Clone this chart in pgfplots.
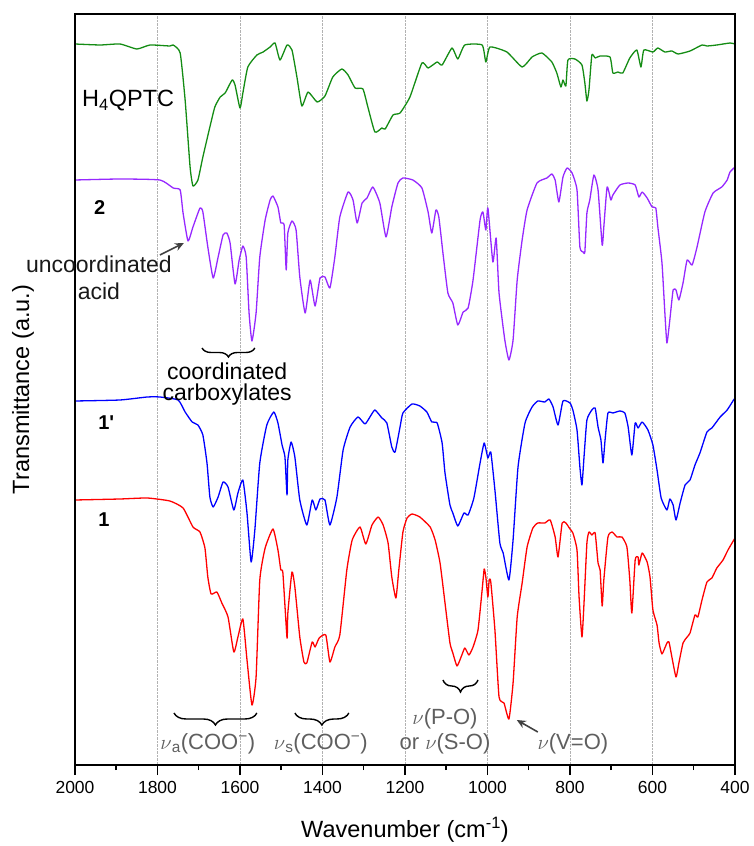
\documentclass[border=0pt]{standalone}
\usepackage{pgfplots}
\pgfplotsset{compat=1.18}
\usepackage{fontspec}
\setmainfont{Liberation Sans}
\usetikzlibrary{decorations.pathreplacing,arrows.meta}
\definecolor{cgreen}{RGB}{20,140,20}
\definecolor{cpurple}{RGB}{150,40,255}
\definecolor{cblue}{RGB}{0,0,255}
\definecolor{cred}{RGB}{255,0,0}
\definecolor{anngray}{RGB}{95,95,95}
\definecolor{arrgray}{RGB}{64,64,64}
\newcommand{\ann}{\fontsize{23}{27}\selectfont}
\newcommand{\annb}{\fontsize{22}{26}\selectfont}
\begin{document}
\begin{tikzpicture}
\begin{axis}[
  scale only axis, width=660pt, height=751pt,
  xmin=400, xmax=2000, x dir=reverse, ymin=0, ymax=751,
  xtick={400,600,...,2000}, minor xtick={500,700,...,1900},
  ytick=\empty, xtick pos=left, tick align=outside,
  major tick length=10pt, minor tick length=5pt,
  every tick/.style={black, line width=1.5pt},
  axis line style={line width=1.8pt},
  xmajorgrids, grid style={densely dotted, gray!60, line width=0.8pt},
  scaled x ticks=false,
  x tick label style={font=\fontsize{17.5}{20}\selectfont, yshift=-3pt, /pgf/number format/assume math mode=true, /pgf/number format/set thousands separator={}},
  xlabel={Wavenumber (cm\textsuperscript{-1})},
  xlabel style={font=\fontsize{23.5}{28}\selectfont, at={(axis description cs:0.5,-0.0866)}, anchor=center},
  ylabel={Transmittance (a.u.)},
  ylabel style={font=\fontsize{23.5}{28}\selectfont, at={(axis description cs:-0.0788,0.5)}, anchor=center},
  clip mode=individual,
  every axis plot/.append style={line width=1.3pt, line join=round, smooth, tension=0.3},
]
% H4QPTC
\addplot[cgreen] coordinates {
(2000,721)(1939,720)(1891,721)(1850,716)(1818,720)(1770,719)(1762,720)(1745,712)(1733,665)(1721,598)(1714,579)(1702,585)(1690,608)(1673,638)(1661,658)(1648,668)(1636,672)(1619,685)(1612,680)(1600,657)(1593,672)(1581,698)(1559,710)(1544,713)(1527,718)(1515,722)(1503,705)(1486,720)(1474,715)(1462,688)(1450,659)(1435,673)(1413,663)(1394,669)(1375,688)(1353,696)(1338,690)(1321,677)(1302,676)(1290,658)(1273,633)(1256,637)(1248,636)(1229,650)(1212,652)(1188,668)(1159,702)(1144,697)(1122,703)(1110,700)(1086,717)(1072,706)(1055,720)(1013,720)(1004,703)(994,718)(953,713)(916,698)(892,708)(868,712)(844,703)(832,692)(822,678)(817,685)(810,679)(805,705)(788,706)(771,700)(764,682)(759,664)(754,675)(747,710)(739,707)(727,709)(703,708)(696,692)(684,693)(672,692)(655,707)(638,715)(628,698)(621,715)(599,713)(587,717)(570,713)(553,714)(538,711)(509,714)(480,720)(468,719)(444,720)(412,722)(400,721)
};
% 2
\addplot[cpurple] coordinates {
(2000,585)(1891,586)(1794,585)(1762,577)(1745,575)(1738,552)(1726,524)(1714,538)(1697,557)(1690,553)(1678,518)(1665,487)(1653,508)(1641,530)(1632,532)(1624,522)(1612,481)(1602,505)(1593,519)(1585,508)(1578,452)(1571,424)(1561,452)(1552,508)(1539,545)(1527,565)(1520,569)(1508,558)(1501,542)(1493,540)(1488,495)(1484,532)(1474,544)(1464,535)(1455,488)(1442,452)(1430,485)(1418,459)(1406,487)(1394,488)(1382,477)(1370,508)(1358,548)(1338,573)(1326,565)(1316,542)(1304,562)(1292,567)(1278,578)(1261,562)(1246,528)(1232,558)(1217,582)(1205,587)(1181,585)(1159,577)(1144,553)(1135,532)(1125,555)(1118,548)(1108,512)(1096,472)(1084,462)(1072,440)(1059,453)(1047,457)(1035,485)(1018,545)(1011,553)(1004,535)(999,557)(987,503)(979,527)(972,472)(958,425)(948,405)(938,425)(928,485)(916,525)(904,555)(880,582)(856,587)(844,591)(836,585)(827,563)(817,588)(807,597)(795,592)(783,575)(776,518)(768,513)(764,513)(759,552)(752,565)(742,590)(732,575)(722,520)(718,538)(710,578)(701,565)(696,570)(679,580)(659,582)(642,580)(633,568)(625,573)(613,567)(601,558)(592,557)(587,538)(577,502)(570,452)(565,422)(558,445)(550,475)(543,475)(536,465)(526,482)(516,505)(504,500)(492,518)(473,553)(453,572)(432,578)(419,585)(412,593)(400,598)
};
% 1'
\addplot[cblue] coordinates {
(2000,364)(1891,365)(1825,368)(1794,368)(1750,365)(1733,353)(1716,343)(1702,340)(1690,330)(1680,302)(1673,268)(1665,258)(1653,268)(1641,283)(1629,278)(1615,255)(1605,272)(1593,285)(1583,252)(1573,203)(1564,235)(1552,302)(1535,340)(1518,353)(1508,342)(1498,320)(1491,308)(1486,270)(1484,305)(1476,323)(1467,308)(1455,265)(1438,240)(1425,265)(1416,255)(1406,266)(1394,265)(1382,240)(1365,268)(1350,315)(1333,338)(1314,348)(1297,341)(1285,348)(1273,355)(1256,347)(1244,342)(1232,318)(1224,313)(1212,338)(1205,352)(1183,361)(1164,359)(1147,353)(1135,343)(1122,342)(1110,322)(1103,292)(1091,260)(1084,252)(1072,239)(1057,252)(1047,250)(1033,267)(1018,302)(1008,322)(999,307)(992,313)(982,275)(970,222)(962,212)(948,185)(938,225)(926,298)(909,342)(892,358)(878,364)(861,363)(851,366)(841,358)(829,340)(817,364)(800,362)(793,355)(783,335)(776,298)(771,280)(766,308)(759,345)(747,355)(739,357)(732,338)(725,325)(720,302)(715,325)(708,352)(696,352)(679,354)(667,352)(659,338)(650,310)(642,342)(635,337)(625,343)(611,335)(599,320)(589,295)(579,267)(565,255)(558,266)(550,260)(543,245)(533,262)(521,280)(509,285)(497,300)(485,312)(468,333)(456,337)(436,348)(419,355)(405,364)(400,367)
};
% 1
\addplot[cred] coordinates {
(2000,265)(1891,266)(1825,267)(1770,264)(1738,257)(1714,238)(1697,233)(1685,217)(1678,188)(1670,171)(1656,173)(1644,162)(1629,148)(1615,113)(1605,128)(1593,146)(1583,105)(1571,60)(1561,88)(1552,185)(1539,217)(1520,236)(1508,215)(1501,195)(1496,192)(1486,127)(1484,152)(1474,193)(1467,178)(1455,128)(1445,103)(1438,102)(1425,123)(1418,118)(1408,127)(1392,130)(1382,103)(1370,118)(1358,130)(1341,195)(1328,225)(1309,238)(1295,221)(1280,240)(1265,248)(1253,240)(1241,222)(1232,188)(1222,167)(1215,195)(1205,233)(1195,247)(1183,251)(1164,248)(1139,238)(1127,225)(1115,202)(1103,162)(1091,122)(1084,112)(1074,99)(1064,108)(1055,117)(1045,110)(1035,118)(1023,135)(1013,175)(1008,196)(1004,188)(999,168)(996,185)(992,183)(982,135)(972,68)(960,62)(948,46)(938,82)(928,148)(916,182)(904,218)(890,237)(878,242)(861,242)(848,245)(836,228)(829,208)(819,242)(810,242)(800,236)(793,232)(783,215)(778,168)(771,128)(766,162)(759,222)(754,233)(747,230)(739,232)(732,202)(727,195)(722,159)(718,185)(708,228)(698,233)(686,228)(674,228)(662,218)(655,185)(650,152)(642,205)(635,208)(633,200)(625,212)(613,203)(606,188)(599,155)(589,140)(584,122)(577,111)(565,122)(560,123)(553,108)(543,88)(536,102)(526,122)(516,128)(509,132)(497,150)(490,148)(480,165)(468,183)(456,187)(444,197)(429,205)(417,215)(400,227)
};
% frame
\draw[black, line width=1.8pt] (rel axis cs:0,0) rectangle (rel axis cs:1,1);
% labels of the spectra
\node[anchor=base west, inner sep=0pt, font=\fontsize{23.5}{28}\selectfont] at (axis cs:1983,658) {H\textsubscript{4}QPTC};
\node[anchor=base west, inner sep=0pt, font=\bfseries\fontsize{20}{24}\selectfont] at (axis cs:1954,550) {2};
\node[anchor=base west, inner sep=0pt, font=\bfseries\fontsize{20}{24}\selectfont] at (axis cs:1944,335) {1\textquotesingle};
\node[anchor=base west, inner sep=0pt, font=\bfseries\fontsize{20}{24}\selectfont] at (axis cs:1944,238) {1};
% uncoordinated acid
\node[anchor=base, inner sep=0pt, font=\ann, text=black!90] at (axis cs:1942,492) {uncoordinated};
\node[anchor=base, inner sep=0pt, font=\ann, text=black!90] at (axis cs:1942,465) {acid};
\draw[arrgray, line width=1.6pt, -{Stealth[length=9pt,width=8pt]}] (axis cs:1794,510) -- (axis cs:1736,522);
% coordinated carboxylates
\draw[black, line width=1.4pt, decorate, decoration={brace, mirror, amplitude=9pt}] (axis cs:1692,417) -- (axis cs:1564,417);
\node[anchor=base, inner sep=0pt, font=\ann] at (axis cs:1631,385) {coordinated};
\node[anchor=base, inner sep=0pt, font=\ann] at (axis cs:1631,364) {carboxylates};
% bottom assignments
\draw[black, line width=1.4pt, decorate, decoration={brace, mirror, amplitude=12pt}] (axis cs:1760,52) -- (axis cs:1559,52);
\draw[black, line width=1.4pt, decorate, decoration={brace, mirror, amplitude=12pt}] (axis cs:1467,52) -- (axis cs:1336,52);
\draw[black, line width=1.4pt, decorate, decoration={brace, mirror, amplitude=12pt}] (axis cs:1108,85) -- (axis cs:1023,85);
\node[anchor=base, inner sep=0pt, font=\annb, text=anngray] at (axis cs:1678,16) {$\nu$\textsubscript{a}(COO\textsuperscript{−})};
\node[anchor=base, inner sep=0pt, font=\annb, text=anngray] at (axis cs:1404,16) {$\nu$\textsubscript{s}(COO\textsuperscript{−})};
\node[anchor=base, inner sep=0pt, font=\annb, text=anngray] at (axis cs:1103,41) {$\nu$(P-O)};
\node[anchor=base, inner sep=0pt, font=\annb, text=anngray] at (axis cs:1103,16) {or $\nu$(S-O)};
\node[anchor=base, inner sep=0pt, font=\annb, text=anngray] at (axis cs:793,16) {$\nu$(V=O)};
\draw[arrgray, line width=1.6pt, -{Stealth[length=9pt,width=8pt]}] (axis cs:878,33) -- (axis cs:929,45);
\end{axis}
\pgfresetboundingbox
\path[use as bounding box] (-75pt,-81pt) rectangle (679pt,765pt);
\end{tikzpicture}
\end{document}
